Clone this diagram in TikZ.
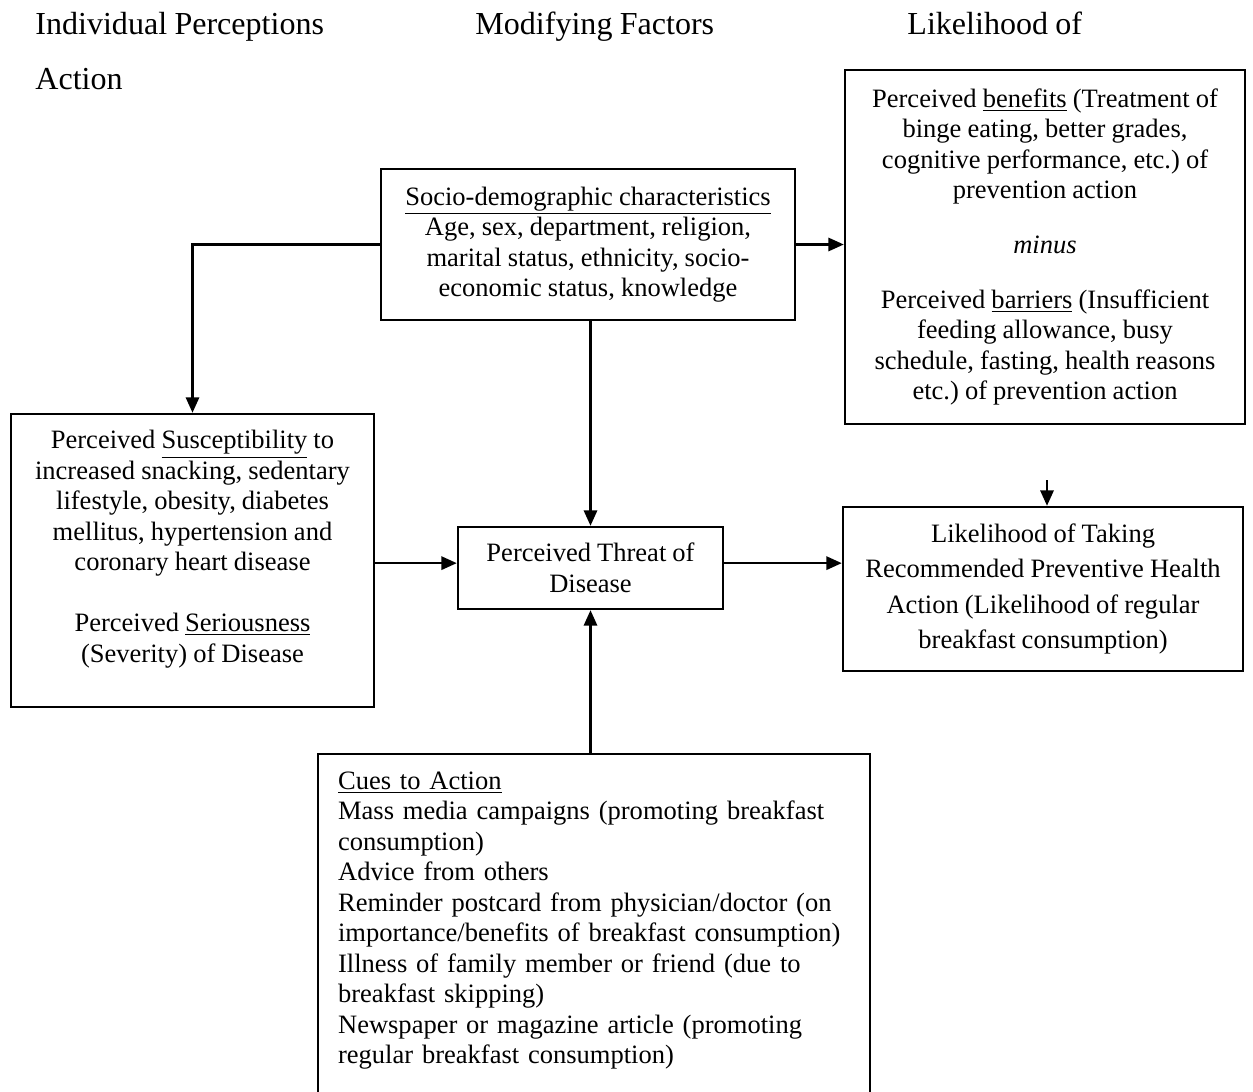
\documentclass[tikz,border=0pt]{standalone}
\usepackage{fontspec}
\setmainfont[WordSpace=0.92]{Liberation Serif}
\usetikzlibrary{arrows.meta}

\begin{document}
\frenchspacing
\begin{tikzpicture}[x=0.4525pt, y=-0.4525pt,
	box/.style={draw, line width=1.1pt, align=center, inner sep=0pt, font=\fontsize{12}{13.8}\selectfont},
	head/.style={anchor=base west, inner sep=0pt, font=\fontsize{14.5}{16}\selectfont},
	arr/.style={line width=1.1pt, -{Triangle[length=7pt, width=6pt]}}]
	\useasboundingbox (0,0) rectangle (1253,1091);
	\clip (0,0) rectangle (1253,1091);
	\node[head] (hind) at (35,35) {Individual Perceptions};
	\node[head] (hact) at (35,90) {Action};
	\node[head] (hmod) at (475,35) {Modifying Factors};
	\node[head] (hlik) at (907,35) {Likelihood of};
	\node[box, minimum width=187.3pt, minimum height=68.3pt] (socio) at (588,244.5)
		{\underline{Socio-demographic characteristics}\\ Age, sex, department, religion,\\ marital status, ethnicity, socio-\\ economic status, knowledge};
	\node[box, minimum width=181pt, minimum height=160.2pt] (benef) at (1045,247)
		{Perceived \underline{benefits} (Treatment of\\ binge eating, better grades,\\ cognitive performance, etc.) of\\ prevention action\\[11pt]
		\textit{minus}\\[11pt]
		Perceived \underline{barriers} (Insufficient\\ feeding allowance, busy\\ schedule, fasting, health reasons\\ etc.) of prevention action};
	\node[box, minimum width=164.3pt, minimum height=132.6pt] (suscep) at (192.5,560.5)
		{Perceived \underline{Susceptibility} to\\ increased snacking, sedentary\\ lifestyle, obesity, diabetes\\ mellitus, hypertension and\\ coronary heart disease\\[13.8pt]
		Perceived \underline{Seriousness}\\ (Severity) of Disease\rule[-13pt]{0pt}{0pt}};
	\node[box, minimum width=119.9pt, minimum height=37.1pt] (threat) at (590.5,568)
		{Perceived Threat of\\ Disease};
	\node[box, minimum width=181pt, minimum height=74.2pt, font=\fontsize{12}{16}\selectfont] (likely) at (1043,589)
		{Likelihood of Taking\\ Recommended Preventive Health\\ Action (Likelihood of regular\\ breakfast consumption)};
	\node[box, anchor=north west, align=left, text width=231.8pt, inner xsep=9pt, inner ysep=8pt] (cues) at (317,753)
		{\underline{Cues to Action}\\ Mass media campaigns (promoting breakfast\\ consumption)\\ Advice from others\\ Reminder postcard from physician/doctor (on\\ importance/benefits of breakfast consumption)\\ Illness of family member or friend (due to\\ breakfast skipping)\\ Newspaper or magazine article (promoting\\ regular breakfast consumption)\rule[-60pt]{0pt}{0pt}};
	\coordinate (stub) at (1047,480);
	\draw[arr] (socio.west) -| (suscep.north);
	\draw[arr] (threat.north |- socio.south) -- (threat.north);
	\draw[arr] (socio.east) -- (socio.east -| benef.west);
	\draw[arr] ([yshift=2.2pt]threat.west -| suscep.east) -- ([yshift=2.2pt]threat.west);
	\draw[arr] ([yshift=2.2pt]threat.east) -- ([yshift=2.2pt]threat.east -| likely.west);
	\draw[arr] (threat.south |- cues.north) -- (threat.south);
	\draw[arr] (stub) -- (stub |- likely.north);
\end{tikzpicture}
\end{document}
